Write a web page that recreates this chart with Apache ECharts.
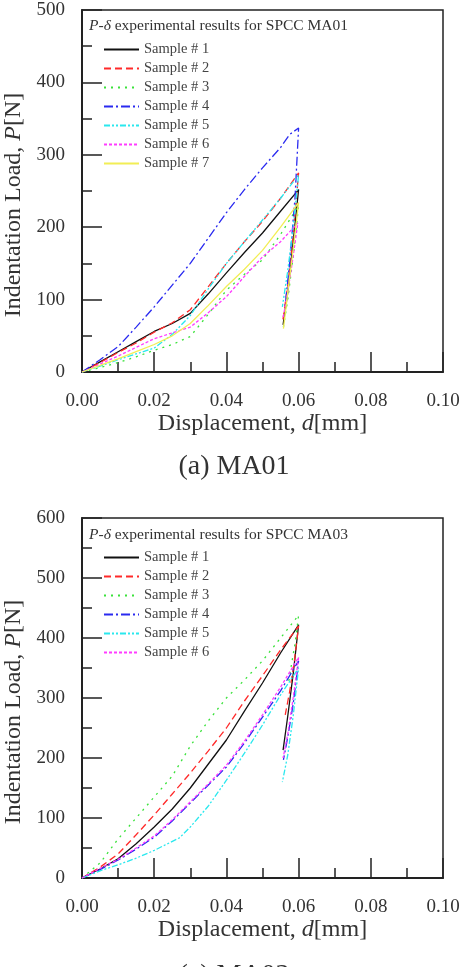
<!DOCTYPE html>
<html>
<head>
<meta charset="utf-8">
<script src="https://cdn.jsdelivr.net/npm/echarts@6/dist/echarts.min.js"></script>
<style>
  html, body { margin: 0; padding: 0; background: #fff; }
  #chart { width: 464px; height: 967px; }
</style>
</head>
<body>
<div id="chart"></div>
<script type="text/javascript">
    // 数据 (displacement mm, load N) - MA01
    var ma01_s1 = [[0,0],[0.005,14],[0.01,28],[0.015,42],[0.02,56],[0.025,67],[0.03,81],[0.035,108],[0.04,137],[0.045,165],[0.05,192],[0.055,222],[0.06,252],[0.0585,180],[0.057,110],[0.0557,65]];
    var ma01_s2 = [[0,0],[0.005,13],[0.01,27],[0.015,40],[0.02,55],[0.025,68],[0.03,86],[0.035,118],[0.04,150],[0.045,180],[0.05,208],[0.055,240],[0.06,275],[0.0585,190],[0.057,120],[0.0556,70]];
    var ma01_s3 = [[0,0],[0.005,6],[0.01,13],[0.015,21],[0.02,30],[0.025,38],[0.03,49],[0.035,80],[0.04,113],[0.045,135],[0.05,155],[0.055,190],[0.06,230],[0.0585,160],[0.057,100],[0.0556,56]];
    var ma01_s4 = [[0,0],[0.005,17],[0.01,35],[0.015,62],[0.02,90],[0.025,120],[0.03,150],[0.035,185],[0.04,220],[0.045,252],[0.05,282],[0.055,310],[0.0575,328],[0.06,337],[0.059,240],[0.0575,150],[0.0562,88]];
    var ma01_s5 = [[0,0],[0.005,8],[0.01,17],[0.015,25],[0.02,33],[0.025,52],[0.03,78],[0.035,115],[0.04,150],[0.045,180],[0.05,210],[0.055,240],[0.06,272],[0.0585,200],[0.057,140],[0.0555,90]];
    var ma01_s6 = [[0,0],[0.005,11],[0.01,22],[0.015,34],[0.02,46],[0.025,54],[0.03,62],[0.035,82],[0.04,104],[0.045,132],[0.05,159],[0.055,180],[0.0598,206],[0.0585,160],[0.057,110],[0.0557,75]];
    var ma01_s7 = [[0,0],[0.005,9],[0.01,18],[0.015,28],[0.02,38],[0.025,50],[0.03,67],[0.035,92],[0.04,118],[0.045,142],[0.05,168],[0.055,200],[0.06,234],[0.0585,170],[0.057,110],[0.0558,60]];

    // MA03
    var ma03_s1 = [[0,0],[0.005,15],[0.01,32],[0.015,57],[0.02,85],[0.025,115],[0.03,150],[0.035,190],[0.04,230],[0.045,278],[0.05,325],[0.055,375],[0.06,422],[0.0585,340],[0.057,270],[0.0557,213]];
    var ma03_s2 = [[0,0],[0.005,18],[0.01,40],[0.015,72],[0.02,105],[0.025,140],[0.03,175],[0.035,212],[0.04,250],[0.045,295],[0.05,337],[0.055,380],[0.06,420],[0.0588,360],[0.0575,310],[0.0563,272]];
    var ma03_s3 = [[0,0],[0.005,25],[0.01,65],[0.015,100],[0.02,135],[0.025,170],[0.03,220],[0.035,262],[0.04,300],[0.045,330],[0.05,362],[0.055,400],[0.06,438],[0.059,390],[0.058,355],[0.0572,325]];
    var ma03_s4 = [[0,0],[0.005,14],[0.01,30],[0.015,48],[0.02,68],[0.025,95],[0.03,125],[0.035,155],[0.04,185],[0.045,225],[0.05,268],[0.055,312],[0.06,362],[0.0585,290],[0.057,235],[0.0558,197]];
    var ma03_s5 = [[0,0],[0.005,12],[0.01,22],[0.015,33],[0.02,46],[0.027,67],[0.03,85],[0.035,120],[0.04,163],[0.045,208],[0.05,255],[0.055,305],[0.06,350],[0.0585,270],[0.057,205],[0.0555,160]];
    var ma03_s6 = [[0,0],[0.005,16],[0.01,31],[0.015,50],[0.02,70],[0.025,97],[0.03,127],[0.035,157],[0.04,188],[0.045,228],[0.05,272],[0.055,318],[0.06,368],[0.0585,300],[0.057,240],[0.0557,200]];

    var names = ['Sample # 1','Sample # 2','Sample # 3','Sample # 4','Sample # 5','Sample # 6','Sample # 7'];
    var xTicks = [0, 0.1, 0.02];

    var FONT = '"Liberation Serif", "DejaVu Serif", serif';
    // 线型
    var styles = [
        {color: '#111111', type: 'solid'},
        {color: '#ff2a2a', type: [7, 4]},
        {color: '#3ae23a', type: [2, 5]},
        {color: '#2a2af0', type: [9, 3, 2, 3]},
        {color: '#2ae8ee', type: [6, 2, 2, 2, 2, 2]},
        {color: '#ff3cff', type: [3, 2]},
        {color: '#f2ee55', type: 'solid'}
    ];

    function mkSeries(name, data, idx, gi) {
        return {
            name: name,
            type: 'line',
            xAxisIndex: gi,
            yAxisIndex: gi,
            symbol: 'none',
            animation: false,
            data: data,
            lineStyle: {color: styles[idx].color, type: styles[idx].type, width: 1.3},
            itemStyle: {color: styles[idx].color}
        };
    }

    function mkX(gi) {
        return {
            type: 'value', gridIndex: gi, min: xTicks[0], max: xTicks[1], interval: xTicks[2],
            name: '{a|Displacement, }{i|d}{a|[mm]}',
            nameLocation: 'middle', nameGap: 40,
            nameTextStyle: {rich: {
                a: {fontFamily: FONT, fontSize: 24, color: '#333'},
                i: {fontFamily: FONT, fontSize: 24, color: '#333', fontStyle: 'italic'}
            }},
            axisLine: {lineStyle: {color: '#222', width: 2}},
            axisTick: {inside: true, length: 20, lineStyle: {color: '#222', width: 1.5}},
            minorTick: {show: true, splitNumber: 2, length: 10, lineStyle: {color: '#222', width: 1.5}},
            splitLine: {show: false},
            axisLabel: {margin: 20, fontFamily: FONT, fontSize: 19, color: '#333',
                formatter: function (v) { return v.toFixed(2); }}
        };
    }

    function mkY(gi, max) {
        return {
            type: 'value', gridIndex: gi, min: 0, max: max, interval: 100,
            name: '{a|Indentation Load, }{i|P}{a|[N]}',
            nameLocation: 'middle', nameRotate: 90, nameGap: 52,
            nameTextStyle: {padding: [0, 28, 0, 0], rich: {
                a: {fontFamily: FONT, fontSize: 24, color: '#333'},
                i: {fontFamily: FONT, fontSize: 24, color: '#333', fontStyle: 'italic'}
            }},
            axisLine: {lineStyle: {color: '#222', width: 2}},
            axisTick: {inside: true, length: 20, lineStyle: {color: '#222', width: 1.5}},
            minorTick: {show: true, splitNumber: 2, length: 10, lineStyle: {color: '#222', width: 1.5}},
            splitLine: {show: false},
            axisLabel: {margin: 17, fontFamily: FONT, fontSize: 19, color: '#333'}
        };
    }

    function mkTitle(txt, top) {
        return {
            left: 89, top: top, padding: 0,
            text: '{i|P-δ}{a| experimental results for SPCC ' + txt + '}',
            textStyle: {rich: {
                a: {fontFamily: FONT, fontSize: 15.5, color: '#333', fontWeight: 'normal'},
                i: {fontFamily: FONT, fontSize: 15.5, color: '#333', fontStyle: 'italic', fontWeight: 'normal'}
            }}
        };
    }

    function mkLegend(list, top) {
        return {
            orient: 'vertical', left: 103, top: top, padding: 0,
            itemWidth: 35, itemHeight: 14, itemGap: 4,
            selectedMode: false,
            data: list,
            itemStyle: {opacity: 0},
            textStyle: {fontFamily: FONT, fontSize: 14.5, color: '#444'}
        };
    }

    var series = [];
    var d1 = [ma01_s1, ma01_s2, ma01_s3, ma01_s4, ma01_s5, ma01_s6, ma01_s7];
    var d3 = [ma03_s1, ma03_s2, ma03_s3, ma03_s4, ma03_s5, ma03_s6];
    d1.forEach(function (d, i) { series.push(mkSeries(names[i], d, i, 0)); });
    d3.forEach(function (d, i) { series.push(mkSeries(names[i], d, i, 1)); });

    var myChart = echarts.init(document.getElementById('chart'), null, {renderer: 'canvas'});
    myChart.setOption({
        backgroundColor: '#fff',
        animation: false,
        title: [mkTitle('MA01', 18), mkTitle('MA03', 527)],
        legend: [mkLegend(names, 42), mkLegend(names.slice(0, 6), 550)],
        grid: [
            {left: 82, top: 10, width: 361, height: 362, show: true, borderColor: '#222', borderWidth: 1.5, outerBoundsMode: 'none', containLabel: false},
            {left: 82, top: 518, width: 361, height: 360, show: true, borderColor: '#222', borderWidth: 1.5, outerBoundsMode: 'none', containLabel: false}
        ],
        xAxis: [mkX(0), mkX(1)],
        yAxis: [mkY(0, 500), mkY(1, 600)],
        graphic: [
            {type: 'text', x: 234, y: 467, style: {text: '(a) MA01', font: '28px ' + FONT, fill: '#333', align: 'center', verticalAlign: 'middle'}},
            {type: 'text', x: 234, y: 976, style: {text: '(c) MA03', font: '28px ' + FONT, fill: '#333', align: 'center', verticalAlign: 'middle'}}
        ],
        series: series
    });
</script>
</body>
</html>
